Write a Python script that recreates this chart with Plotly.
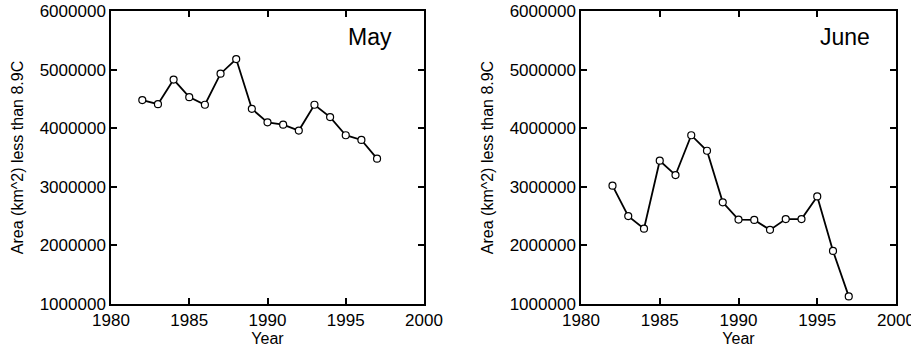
import plotly.graph_objects as go

years = list(range(1982, 1998))
may_area = [4480000, 4410000, 4830000, 4530000, 4400000, 4930000, 5180000, 4330000,
            4100000, 4060000, 3960000, 4400000, 4190000, 3880000, 3800000, 3480000]
june_area = [3020000, 2500000, 2285000, 3445000, 3200000, 3880000, 3615000, 2735000,
             2440000, 2435000, 2265000, 2450000, 2450000, 2835000, 1905000, 1130000]
panel_labels = ["May", "June"]
x_ticks = [1980, 1985, 1990, 1995, 2000]
y_ticks = [1000000, 2000000, 3000000, 4000000, 5000000, 6000000]

FONT = "Liberation Sans, Arial, Helvetica, sans-serif"
W, H = 911, 350

fig = go.Figure()
for i, vals in enumerate([may_area, june_area]):
    xa = "x" if i == 0 else "x2"
    ya = "y" if i == 0 else "y2"
    fig.add_trace(go.Scatter(
        x=years, y=vals, mode="lines+markers", xaxis=xa, yaxis=ya,
        line=dict(color="black", width=1.8),
        marker=dict(symbol="circle", size=7, color="white",
                    line=dict(color="black", width=1.2)),
        showlegend=False,
        cliponaxis=False,
    ))

def xaxis(domain, anchor):
    return dict(domain=domain, anchor=anchor, range=[1980, 2000], tickvals=x_ticks,
                ticks="inside", ticklen=6, tickwidth=1.5, tickcolor="black",
                showline=True, linecolor="black", linewidth=1.5, mirror="ticks",
                showgrid=False, zeroline=False, automargin=False,
                ticklabeloverflow="allow",
                tickfont=dict(family=FONT, size=17, color="black"),
                title=dict(text="Year", font=dict(family=FONT, size=16, color="black"),
                           standoff=2))

def yaxis(domain, anchor):
    return dict(domain=domain, anchor=anchor, range=[1000000, 6000000], tickvals=y_ticks,
                tickformat="d",
                ticks="inside", ticklen=6, tickwidth=1.5, tickcolor="black",
                showline=True, linecolor="black", linewidth=1.5, mirror="ticks",
                showgrid=False, zeroline=False, automargin=False,
                ticklabeloverflow="allow",
                tickfont=dict(family=FONT, size=17, color="black"),
                title=dict(text="Area (km^2) less than 8.9C",
                           font=dict(family=FONT, size=16, color="black"), standoff=12))

ydom = [1 - 304 / H, 1 - 11 / H]
fig.update_layout(
    width=W, height=H,
    margin=dict(l=0, r=0, t=0, b=0),
    paper_bgcolor="white", plot_bgcolor="white",
    xaxis=xaxis([111 / W, 424 / W], "y"),
    yaxis=yaxis(ydom, "x"),
    xaxis2=xaxis([581 / W, 896 / W], "y2"),
    yaxis2=yaxis(ydom, "x2"),
    annotations=[
        dict(text=panel_labels[0], xref="x domain", yref="y domain", x=0.827, y=0.911,
             xanchor="center", yanchor="middle",
             showarrow=False, font=dict(family=FONT, size=23, color="black")),
        dict(text=panel_labels[1], xref="x2 domain", yref="y2 domain", x=0.838, y=0.911,
             xanchor="center", yanchor="middle",
             showarrow=False, font=dict(family=FONT, size=23, color="black")),
    ],
)

fig.write_html("out.html", config={"displayModeBar": False},
               post_script="document.body.style.margin='0';")
